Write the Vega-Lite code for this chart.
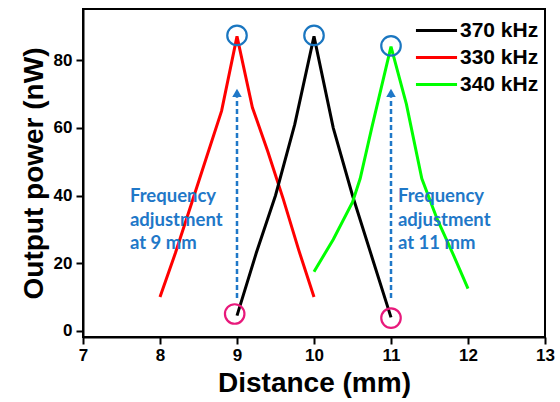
{
  "$schema": "https://vega.github.io/schema/vega-lite/v6.json",
  "width": 462,
  "height": 328,
  "autosize": {"type": "none"},
  "padding": {"left": 83, "top": 9, "right": 15, "bottom": 65},
  "background": "white",
  "config": {
    "view": {"stroke": "black", "strokeWidth": 2},
    "font": "Liberation Sans"
  },
  "datasets": {
    "curves": [
      {"series": "330 kHz", "x": 8.0, "y": 10},
      {"series": "330 kHz", "x": 8.2, "y": 23},
      {"series": "330 kHz", "x": 8.4, "y": 37},
      {"series": "330 kHz", "x": 8.6, "y": 51},
      {"series": "330 kHz", "x": 8.8, "y": 65},
      {"series": "330 kHz", "x": 9.0, "y": 87},
      {"series": "330 kHz", "x": 9.2, "y": 66},
      {"series": "330 kHz", "x": 9.4, "y": 53},
      {"series": "330 kHz", "x": 9.6, "y": 39},
      {"series": "330 kHz", "x": 9.8, "y": 24},
      {"series": "330 kHz", "x": 10.0, "y": 10},
      {"series": "370 kHz", "x": 9.0, "y": 4.5},
      {"series": "370 kHz", "x": 9.25, "y": 23},
      {"series": "370 kHz", "x": 9.5, "y": 40},
      {"series": "370 kHz", "x": 9.75, "y": 61},
      {"series": "370 kHz", "x": 10.0, "y": 87},
      {"series": "370 kHz", "x": 10.25, "y": 60},
      {"series": "370 kHz", "x": 10.5, "y": 40},
      {"series": "370 kHz", "x": 10.75, "y": 22},
      {"series": "370 kHz", "x": 11.0, "y": 4},
      {"series": "340 kHz", "x": 10.0, "y": 17.5},
      {"series": "340 kHz", "x": 10.25, "y": 27},
      {"series": "340 kHz", "x": 10.5, "y": 38},
      {"series": "340 kHz", "x": 10.6, "y": 45},
      {"series": "340 kHz", "x": 10.75, "y": 60},
      {"series": "340 kHz", "x": 11.0, "y": 84},
      {"series": "340 kHz", "x": 11.2, "y": 67},
      {"series": "340 kHz", "x": 11.4, "y": 45},
      {"series": "340 kHz", "x": 11.6, "y": 33},
      {"series": "340 kHz", "x": 11.8, "y": 23},
      {"series": "340 kHz", "x": 12.0, "y": 12.5}
    ],
    "peaks": [
      {"x": 9.0, "y": 87.3},
      {"x": 10.0, "y": 87.3},
      {"x": 11.0, "y": 84.2}
    ],
    "lows": [
      {"x": 8.97, "y": 5},
      {"x": 11.0, "y": 3.8}
    ],
    "arrows": [
      {"x": 9, "y0": 9.7, "y1": 69, "tip": 70.3},
      {"x": 11, "y0": 9.7, "y1": 69, "tip": 70.3}
    ],
    "notes": [
      {"x": 7.61, "y": 38, "text": "Frequency\nadjustment\nat 9 mm"},
      {"x": 11.09, "y": 38, "text": "Frequency\nadjustment\nat 11 mm"}
    ]
  },
  "layer": [
    {
      "data": {"name": "curves"},
      "mark": {"type": "line", "strokeWidth": 3, "clip": true},
      "encoding": {
        "x": {
          "field": "x", "type": "quantitative",
          "scale": {"domain": [7, 13], "nice": false, "zero": false},
          "axis": {
            "values": [7, 7.5, 8, 8.5, 9, 9.5, 10, 10.5, 11, 11.5, 12, 12.5, 13],
            "labelExpr": "datum.value % 1 === 0 ? format(datum.value, 'd') : ''",
            "tickSize": {"condition": {"test": "datum.value % 1 === 0", "value": 7}, "value": 4},
            "tickWidth": 2, "tickColor": "black",
            "domainColor": "black", "domainWidth": 2,
            "grid": false, "labelFlush": false, "labelOverlap": false,
            "labelFontSize": 17, "labelFontWeight": "bold", "labelColor": "black", "labelPadding": 3,
            "title": "Distance (mm)", "titleFontSize": 28, "titleFontWeight": "bold", "titleColor": "black", "titlePadding": 6
          }
        },
        "y": {
          "field": "y", "type": "quantitative",
          "scale": {"domain": [-1.8, 95.1], "nice": false, "zero": false},
          "axis": {
            "values": [0, 10, 20, 30, 40, 50, 60, 70, 80, 90],
            "labelExpr": "datum.value % 20 === 0 ? format(datum.value, 'd') : ''",
            "tickSize": {"condition": {"test": "datum.value % 20 === 0", "value": 7}, "value": 4},
            "tickWidth": 2, "tickColor": "black",
            "domainColor": "black", "domainWidth": 2,
            "grid": false, "labelFlush": false, "labelOverlap": false,
            "labelFontSize": 17, "labelFontWeight": "bold", "labelColor": "black", "labelPadding": 4,
            "title": "Output power (nW)", "titleFontSize": 28, "titleFontWeight": "bold", "titleColor": "black", "titlePadding": 5
          }
        },
        "color": {
          "field": "series", "type": "nominal",
          "scale": {"domain": ["370 kHz", "330 kHz", "340 kHz"], "range": ["#000000", "#ff0000", "#00ff00"]},
          "legend": {
            "orient": "top-right", "title": null, "offset": 6,
            "symbolType": "M-1.5,0H1.5", "symbolSize": 750, "symbolStrokeWidth": 3,
            "labelFontSize": 21, "labelFontWeight": "bold", "labelColor": "black", "labelFont": "Liberation Sans",
            "labelOffset": 8, "rowPadding": 1
          }
        }
      }
    },
    {
      "data": {"name": "arrows"},
      "mark": {"type": "rule", "color": "#1f78c8", "strokeWidth": 2.5, "strokeDash": [5, 3]},
      "encoding": {
        "x": {"field": "x", "type": "quantitative"},
        "y": {"field": "y0", "type": "quantitative"},
        "y2": {"field": "y1"}
      }
    },
    {
      "data": {"name": "arrows"},
      "mark": {"type": "point", "shape": "triangle-up", "filled": true, "color": "#1f78c8", "size": 90, "opacity": 1},
      "encoding": {
        "x": {"field": "x", "type": "quantitative"},
        "y": {"field": "tip", "type": "quantitative"}
      }
    },
    {
      "data": {"name": "peaks"},
      "mark": {"type": "point", "shape": "circle", "filled": false, "color": "#1a76c0", "strokeWidth": 2.2, "size": 380, "opacity": 1},
      "encoding": {
        "x": {"field": "x", "type": "quantitative"},
        "y": {"field": "y", "type": "quantitative"}
      }
    },
    {
      "data": {"name": "lows"},
      "mark": {"type": "point", "shape": "circle", "filled": false, "color": "#e8197b", "strokeWidth": 2.2, "size": 380, "opacity": 1},
      "encoding": {
        "x": {"field": "x", "type": "quantitative"},
        "y": {"field": "y", "type": "quantitative"}
      }
    },
    {
      "data": {"name": "notes"},
      "mark": {"type": "text", "align": "left", "baseline": "alphabetic", "lineBreak": "\n", "lineHeight": 23.5, "font": "Lato", "fontWeight": "bold", "fontSize": 18.5, "color": "#1f78c8"},
      "encoding": {
        "x": {"field": "x", "type": "quantitative"},
        "y": {"field": "y", "type": "quantitative"},
        "text": {"field": "text"}
      }
    }
  ]
}
